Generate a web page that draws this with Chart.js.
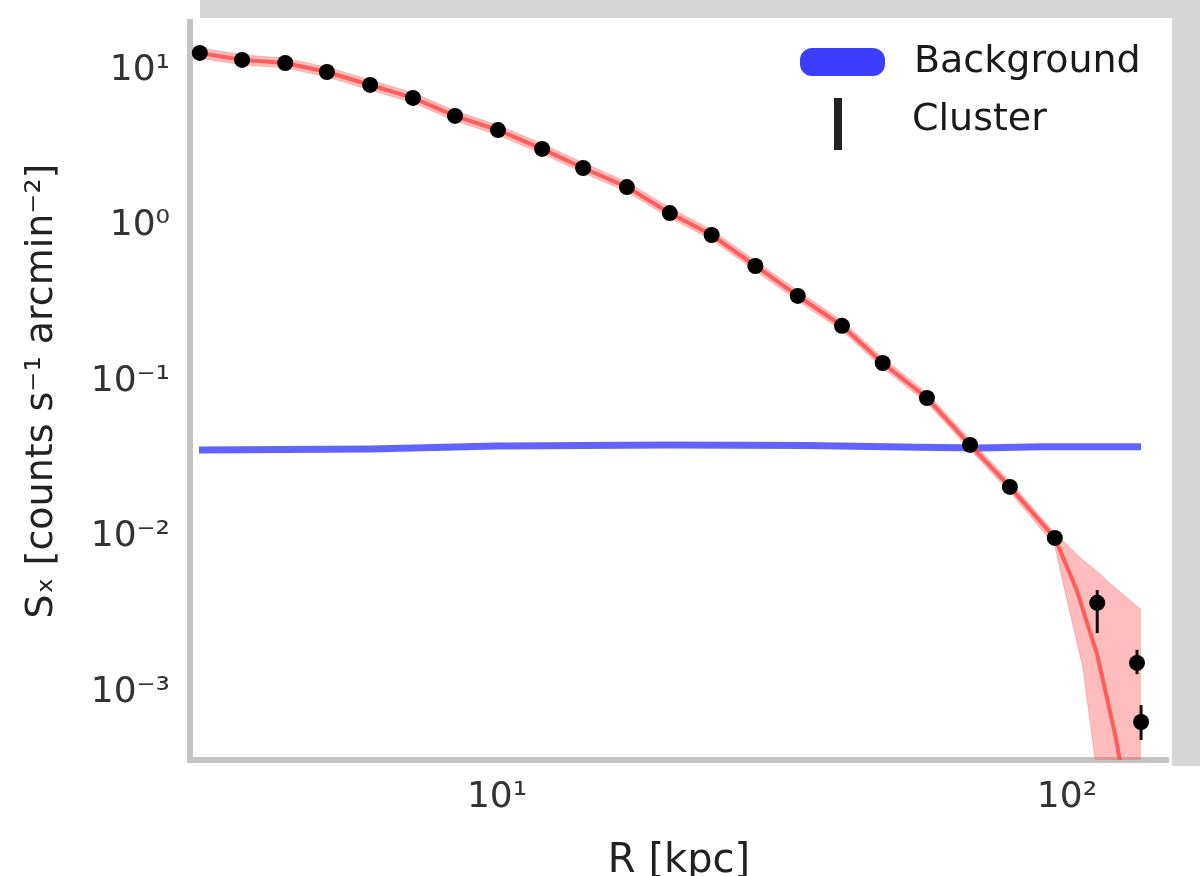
<!DOCTYPE html>
<html><head><meta charset="utf-8">
<script src="https://cdn.jsdelivr.net/npm/chart.js@4/dist/chart.umd.min.js"></script>
<style>html,body{margin:0;padding:0;background:#fff;overflow:hidden;} #wrap{width:1200px;height:876px;position:relative;}</style>
</head><body><div id="wrap"><canvas id="c" width="1200" height="876"></canvas></div>
<script>
// ---- data ----
const clusterR = [3.01,3.57,4.25,5.03,5.99,7.12,8.44,10.04,12.0,14.16,16.9,20.1,23.8,28.4,33.7,40.3,47.5,56.8,67.6,79.4,95.2,113,132.7,134.9];
const clusterS = [12.96,11.7,11.17,9.78,8.07,6.66,5.10,4.14,3.13,2.36,1.78,1.21,0.875,0.553,0.355,0.228,0.1315,0.0783,0.0391,0.0210,0.00986,0.00377,0.00155,0.000646];
const clusterLo = [12.6,11.4,10.9,9.55,7.88,6.5,4.98,4.04,3.05,2.3,1.73,1.18,0.85,0.537,0.344,0.221,0.127,0.0755,0.0376,0.0201,0.0093,0.00241,0.00131,0.000495];
const clusterHi = [13.3,12.0,11.45,10.0,8.26,6.82,5.22,4.24,3.21,2.42,1.83,1.24,0.9,0.569,0.366,0.235,0.136,0.081,0.0406,0.0219,0.0104,0.00456,0.00188,0.00083];

const modelR = [3.01,3.57,4.25,5.03,5.99,7.12,8.44,10.04,12.0,14.16,16.9,20.1,23.8,28.4,33.7,40.3,47.5,56.8,67.6,79.4,95.2,104,113,122,128];
const modelS = [12.96,11.7,11.17,9.78,8.07,6.66,5.10,4.14,3.13,2.36,1.78,1.21,0.875,0.553,0.355,0.228,0.1315,0.0783,0.0391,0.0210,0.00986,0.00456,0.00175,0.0005,0.00018];

const bandR  = [3.01,3.57,4.25,5.03,5.99,7.12,8.44,10.04,12.0,14.16,16.9,20.1,23.8,28.4,33.7,40.3,47.5,56.8,67.6,79.4,95.2,100,106.6,113,120,134.9,134.9];
const bandHi = [14.0,12.6,12.0,10.5,8.7,7.2,5.5,4.45,3.38,2.55,1.92,1.31,0.945,0.597,0.383,0.246,0.142,0.0845,0.0422,0.0227,0.0106,0.0089,0.0071,0.0060,0.0049,0.0034,0.0034];
const bandLo = [12.0,10.9,10.4,9.1,7.5,6.2,4.75,3.85,2.91,2.2,1.66,1.13,0.815,0.515,0.33,0.212,0.122,0.0728,0.0364,0.0195,0.0088,0.00394,0.00146,0.000295,0.0001,0.0001,0.0001];

const bgR = [3.0,6,10,20,35,55,70,90,134.9];
const bgS = [0.0363,0.0368,0.0385,0.0390,0.0388,0.0377,0.0374,0.0380,0.0380];

const xTickValues = [10, 100];
const xTickLabels = ['10¹', '10²'];
const yTickValues = [10, 1, 0.1, 0.01, 0.001];
const yTickLabels = ['10¹', '10⁰', '10⁻¹', '10⁻²', '10⁻³'];
const seriesNames = ['Background', 'Cluster'];
const xTitle = 'R [kpc]';
const yTitle = 'Sₓ [counts s⁻¹ arcmin⁻²]';

// ---- helpers ----
const pts = (xs, ys) => xs.map((x, i) => ({x: x, y: ys[i]}));
const FONT = "'DejaVu Sans', sans-serif";

const framePlugin = {
  id: 'frame',
  beforeDraw(chart) {
    const {ctx, chartArea: a, width} = chart;
    ctx.save();
    ctx.fillStyle = '#d6d6d6';
    ctx.fillRect(a.left + 10, 0, width - a.left - 10, a.top - 4);
    ctx.fillRect(a.right + 4, 0, width - a.right - 4, a.bottom + 6);
    ctx.restore();
  }
};

const errorBarPlugin = {
  id: 'errbars',
  beforeDatasetDraw(chart, args) {
    if (args.index !== 0) return;
    const {ctx} = chart;
    const xs = chart.scales.x, ys = chart.scales.y;
    const a = chart.chartArea;
    ctx.save();
    ctx.beginPath();
    ctx.rect(a.left, a.top, a.right - a.left, a.bottom - a.top);
    ctx.clip();
    ctx.strokeStyle = '#111';
    ctx.lineWidth = 3;
    clusterR.forEach((r, i) => {
      const px = xs.getPixelForValue(r);
      ctx.beginPath();
      ctx.moveTo(px, ys.getPixelForValue(clusterLo[i]));
      ctx.lineTo(px, ys.getPixelForValue(clusterHi[i]));
      ctx.stroke();
    });
    ctx.restore();
  }
};

const legendPlugin = {
  id: 'customLegend',
  afterDraw(chart) {
    const {ctx, chartArea: a} = chart;
    const x0 = a.right - 368;
    ctx.save();
    ctx.fillStyle = 'rgba(40,40,255,0.9)';
    const w = 85, h = 28, y0 = a.top + 26, r = 12;
    ctx.beginPath();
    ctx.moveTo(x0 + r, y0);
    ctx.arcTo(x0 + w, y0, x0 + w, y0 + h, r);
    ctx.arcTo(x0 + w, y0 + h, x0, y0 + h, r);
    ctx.arcTo(x0, y0 + h, x0, y0, r);
    ctx.arcTo(x0, y0, x0 + w, y0, r);
    ctx.closePath();
    ctx.fill();
    ctx.strokeStyle = '#222';
    ctx.lineWidth = 8;
    ctx.beginPath();
    ctx.moveTo(x0 + 38, a.top + 76);
    ctx.lineTo(x0 + 38, a.top + 128);
    ctx.stroke();
    ctx.fillStyle = '#1a1a1a';
    ctx.font = '38px ' + FONT;
    ctx.textAlign = 'left';
    ctx.textBaseline = 'middle';
    ctx.fillText(seriesNames[0], x0 + 114, y0 + h / 2);
    ctx.fillText(seriesNames[1], x0 + 112, a.top + 98);
    ctx.restore();
  }
};

new Chart(document.getElementById('c'), {
  type: 'line',
  data: {
    datasets: [
      { label: seriesNames[1], data: pts(clusterR, clusterS), showLine: false,
        pointRadius: 8, pointHoverRadius: 8, pointBackgroundColor: '#000', pointBorderWidth: 0, order: 0 },
      { label: 'model', data: pts(modelR, modelS), borderColor: 'rgba(255,60,60,0.75)', borderWidth: 4,
        pointRadius: 0, fill: false, order: 1 },
      { label: 'bandHi', data: pts(bandR, bandHi), borderColor: 'rgba(255,90,90,0.35)', borderWidth: 1,
        backgroundColor: 'rgba(255,80,80,0.38)', pointRadius: 0, fill: '+1', order: 2 },
      { label: 'bandLo', data: pts(bandR, bandLo), borderColor: 'rgba(255,90,90,0.35)', borderWidth: 1,
        pointRadius: 0, fill: false, order: 3 },
      { label: seriesNames[0], data: pts(bgR, bgS), borderColor: 'rgba(70,70,255,0.85)', borderWidth: 7,
        pointRadius: 0, fill: false, order: 4 }
    ]
  },
  options: {
    responsive: false,
    animation: false,
    events: [],
    layout: { padding: { left: 0, right: 32, top: 22, bottom: 0 } },
    plugins: { legend: { display: false }, tooltip: { enabled: false } },
    elements: { line: { tension: 0 } },
    scales: {
      x: {
        type: 'logarithmic', min: 2.893, max: 150.4,
        afterFit: s => { s.height = 116; s.paddingLeft = 0; s.paddingRight = 0; },
        afterBuildTicks: s => { s.ticks = xTickValues.map(v => ({value: v})); },
        grid: { display: false, drawTicks: false },
        border: { display: true, color: '#c4c4c4', width: 6 },
        ticks: { padding: 16, color: '#333', maxRotation: 0, autoSkip: false,
          font: { family: FONT, size: 36 },
          callback: (v) => { const i = xTickValues.indexOf(v); return i >= 0 ? xTickLabels[i] : null; } },
        title: { display: true, text: xTitle, color: '#222', padding: { top: 0, bottom: 0 },
          font: { family: FONT, size: 40, lineHeight: 0.7 } }
      },
      y: {
        type: 'logarithmic', min: 3.68e-4, max: 20.5,
        afterFit: s => { s.width = 190; s.paddingTop = 0; s.paddingBottom = 0; },
        afterBuildTicks: s => { s.ticks = yTickValues.map(v => ({value: v})); },
        grid: { display: false, drawTicks: false },
        border: { display: true, color: '#c4c4c4', width: 6 },
        ticks: { padding: 20, color: '#333', autoSkip: false,
          font: { family: FONT, size: 36 },
          callback: (v) => { const i = yTickValues.indexOf(v); return i >= 0 ? yTickLabels[i] : null; } },
        title: { display: true, text: yTitle, color: '#222', padding: { top: 19, bottom: 0 },
          font: { family: FONT, size: 38 } }
      }
    }
  },
  plugins: [framePlugin, errorBarPlugin, legendPlugin]
});
</script>
</body></html>
